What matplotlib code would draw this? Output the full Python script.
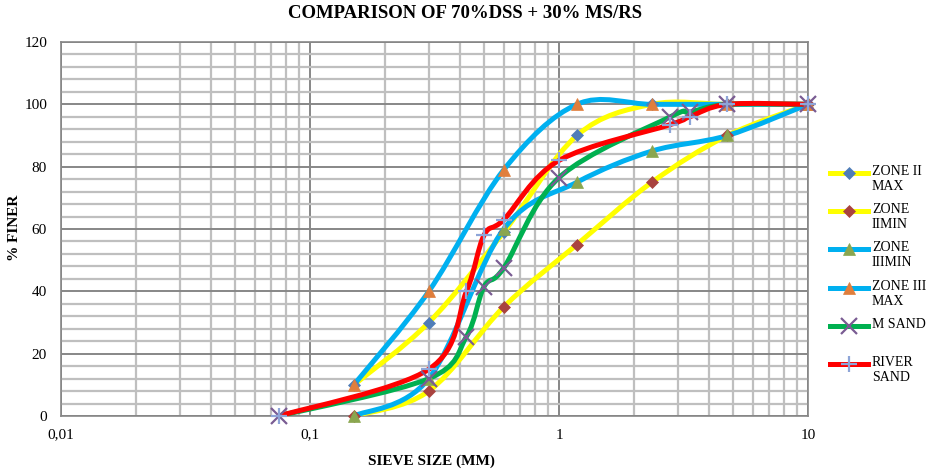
import numpy as np
import matplotlib
matplotlib.use("Agg")
import matplotlib.pyplot as plt
from matplotlib.path import Path
from matplotlib.patches import PathPatch
from matplotlib.lines import Line2D
from matplotlib.ticker import FixedLocator, FixedFormatter, MultipleLocator, LogLocator, NullFormatter

plt.rcParams['font.family'] = ['Liberation Serif', 'DejaVu Serif']

# sieve sizes (mm)
zone_sieves = [10, 4.75, 2.36, 1.18, 0.6, 0.3, 0.15]
zone2_max = [100, 100, 100, 90, 59, 30, 10]
zone2_min = [100, 90, 75, 55, 35, 8, 0]
zone3_min = [100, 90, 85, 75, 60, 12, 0]
zone3_max = [100, 100, 100, 100, 79, 40, 10]

sand_sieves = [10, 4.75, 3.35, 2.8, 1.0, 0.6, 0.5, 0.425, 0.3, 0.075]
m_sand = [100, 100, 97.5, 96, 76.5, 47.5, 41.5, 25.5, 12, 0]
river_sand = [100, 100, 96, 93.5, 82, 63, 58, 40, 15, 0]

x_ticks = [0.01, 0.1, 1, 10]
x_tick_labels = ['0,01', '0,1', '1', '10']

series = [
    # label, x, y, line colour, marker, marker colour, size
    ('ZONE II\nMAX', zone_sieves, zone2_max, '#FFFF00', 'D', '#4F7DB8', 6),
    ('ZONE\nIIMIN', zone_sieves, zone2_min, '#FFFF00', 'D', '#A9433F', 6),
    ('ZONE\nIIIMIN', zone_sieves, zone3_min, '#00B0F0', '^', '#8AA64F', 8),
    ('ZONE III\nMAX', zone_sieves, zone3_max, '#00B0F0', '^', '#E07E3C', 8),
    ('M SAND', sand_sieves, m_sand, '#00B050', 'x', '#7A5C93', 11),
    ('RIVER\nSAND', sand_sieves, river_sand, '#FF0000', '+', '#8EA5D8', 12),
]


def smooth_path(x, y):
    # Excel style smoothed line: Catmull-Rom bezier in (log x, y) space
    order = np.argsort(x)
    pts = np.column_stack([np.log10(np.asarray(x, float)[order]), np.asarray(y, float)[order]])
    n = len(pts)
    verts = [pts[0]]
    codes = [Path.MOVETO]
    for i in range(n - 1):
        p0 = pts[max(i - 1, 0)]
        p1 = pts[i]
        p2 = pts[i + 1]
        p3 = pts[min(i + 2, n - 1)]
        verts += [p1 + (p2 - p0) / 6, p2 - (p3 - p1) / 6, p2]
        codes += [Path.CURVE4] * 3
    verts = np.array(verts)
    verts[:, 0] = 10 ** verts[:, 0]
    return Path(verts, codes)


fig = plt.figure(figsize=(9.3, 4.73), dpi=100)
ax = fig.add_axes([61 / 930, 1 - 416 / 473, (808 - 61) / 930, (416 - 42) / 473])

ax.set_xscale('log')
ax.set_xlim(0.01, 10)
ax.set_ylim(0, 120)

for label, x, y, lc, m, mc, ms in series:
    ax.add_patch(PathPatch(smooth_path(x, y), fill=False, edgecolor=lc, lw=3.6,
                           capstyle='round', joinstyle='round', zorder=3))
for label, x, y, lc, m, mc, ms in series:
    ax.plot(x, y, linestyle='none', marker=m, markersize=ms, color=mc,
            markeredgewidth=1.6 if m in 'x+' else 0.5, zorder=4, clip_on=False)

# grid
ax.xaxis.set_major_locator(FixedLocator(x_ticks))
ax.xaxis.set_major_formatter(FixedFormatter(x_tick_labels))
ax.xaxis.set_minor_locator(LogLocator(base=10, subs=np.arange(2, 10)))
ax.xaxis.set_minor_formatter(NullFormatter())
ax.yaxis.set_major_locator(MultipleLocator(20))
ax.yaxis.set_minor_locator(MultipleLocator(4))
ax.grid(which='minor', color='#BFBFBF', lw=1.6, zorder=0)
ax.grid(which='major', color='#878787', lw=1.4, zorder=1)
ax.set_axisbelow(True)
for s in ax.spines.values():
    s.set_color('#878787')
    s.set_linewidth(1.2)
ax.tick_params(which='both', length=0)
ax.tick_params(axis='x', pad=9, labelsize=11)
ax.tick_params(axis='y', pad=10, labelsize=11)

fig.text(0.5, 1 - 14 / 473, 'COMPARISON OF 70%DSS + 30% MS/RS', ha='center', va='center',
         fontsize=13.5, fontweight='bold')
fig.text(431 / 930, 1 - 461 / 473, 'SIEVE SIZE (MM)', ha='center', va='center',
         fontsize=11, fontweight='bold')
fig.text(14 / 930, 1 - 228 / 473, '% FINER', ha='center', va='center', rotation=90,
         fontsize=11, fontweight='bold')

# legend drawn by hand to keep Excel layout
for i, (label, x, y, lc, m, mc, ms) in enumerate(series):
    yy = 1 - (173 + i * 38.2) / 473
    fig.add_artist(Line2D([830 / 930, 868 / 930], [yy, yy], color=lc, lw=3.6,
                          transform=fig.transFigure))
    fig.add_artist(Line2D([849 / 930], [yy], marker=m, markersize=ms, color=mc,
                          markeredgewidth=1.6 if m in 'x+' else 0.5, linestyle='none',
                          transform=fig.transFigure))
    fig.text(872 / 930, yy + 8 / 473, label, ha='left', va='top', fontsize=10,
             linespacing=1.2)

fig.savefig('out.png', dpi=100)
